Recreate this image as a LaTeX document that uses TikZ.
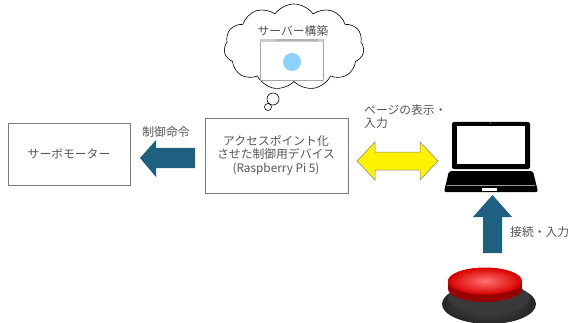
\documentclass[tikz,border=0pt]{standalone}
\usepackage{fontspec}
\setmainfont{Noto Sans CJK JP}
\usetikzlibrary{shapes.symbols}
\definecolor{txt}{HTML}{555555}
\definecolor{teal}{HTML}{1F5F80}
\definecolor{boxline}{HTML}{7A7A7A}
\begin{document}
\begin{tikzpicture}[x=1pt,y=-1pt,
  lbl/.style={text=txt,font=\fontsize{11.8}{13.5}\selectfont,inner sep=0},
  box/.style={draw=boxline,line width=0.7pt,fill=white}]
\useasboundingbox (0,0) rectangle (569,323);

% servo motor box
\draw[box] (8,123) rectangle (130,185);
\node[lbl] (servo) at (69,154) {サーボモーター};

% control device box
\draw[box] (205,118) rectangle (348,193);
\node[lbl,align=center] (dev) at (276,155)
  {アクセスポイント化\\させた制御用デバイス\\(Raspberry Pi 5)};

% arrow: control command
\fill[teal] (140,158) -- (156,140) -- (156,148) -- (195,148) -- (195,168) -- (156,168) -- (156,177) -- cycle;
\node[lbl] (cmd) at (166,132) {制御命令};

% two-way arrow: page display / input
\filldraw[fill=yellow,draw=gray,line width=0.5pt]
  (357,161) -- (375,142) -- (375,152) -- (420,152) -- (420,142) -- (438,161)
  -- (420,180) -- (420,170) -- (375,170) -- (375,180) -- cycle;
\node[lbl,align=left,anchor=north west] (page) at (364,104) {ページの表示・\\入力};

% cloud with server build
\node[cloud,draw=black,line width=0.6pt,fill=white,cloud puffs=11,cloud puff arc=110,
  minimum width=140,minimum height=86,aspect=1.6] (cloud) at (294,47) {};
\draw[line width=0.6pt] (273,99) circle (6);
\draw[line width=0.6pt] (268,107) circle (3.5);
\node[lbl] (srv) at (293,31) {サーバー構築};
\draw[gray!70,fill=white,line width=0.5pt] (260,39) rectangle (323,80);
\fill[gray!40] (260,39) rectangle (323,42);
\fill[gray!60] (276,39.5) rectangle (318,41.5);
\fill[blue!40!cyan!45] (292,62) circle (9);

% laptop
\fill[black] (452,122) [rounded corners=2pt] -- (530,122) -- (530,169) -- (452,169) -- cycle;
\fill[white] (457,126) rectangle (525,164);
\fill[gray] (490.5,123.2) circle (0.7);
\fill[black,rounded corners=2pt] (449,171) -- (533,171) -- (538,192) -- (444,192) -- cycle;
\draw[gray!80,line width=0.8pt] (447,185) -- (535,185);
\fill[white] (482,188) rectangle (497,191);

% arrow: connect / input
\fill[teal] (492.5,195) -- (512,217) -- (502,217) -- (502,253) -- (483,253) -- (483,217) -- (473,217) -- cycle;
\node[lbl,anchor=west] (conn) at (510,232) {接続・入力};

% red push button
\shade[inner color=gray!60!black,outer color=black!85] (489,304) ellipse (47 and 20);
\fill[gray!45!black] (489,298) ellipse (41 and 15);
\fill[red!60!black] (485,289) ellipse (37 and 13);
\fill[red!65!black] (448,281) rectangle (522,289);
\shade[inner color=red!55!white,outer color=red!85!black] (485,281) ellipse (37 and 13.5);
\end{tikzpicture}
\end{document}
